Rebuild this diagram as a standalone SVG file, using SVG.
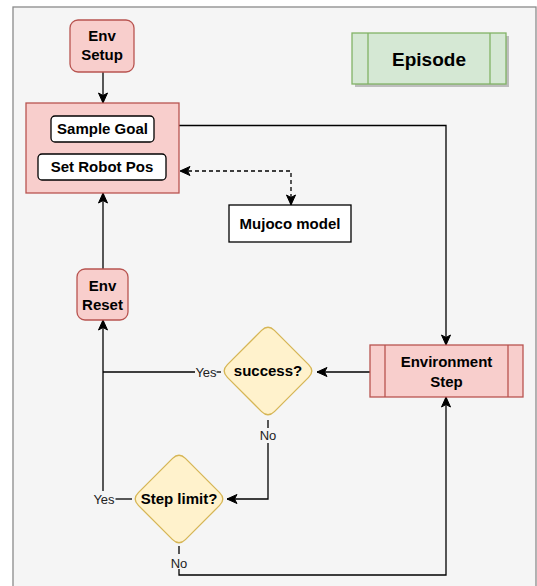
<svg xmlns="http://www.w3.org/2000/svg" width="537" height="586" viewBox="0 0 537 586">
<style>
text{font-family:"Liberation Sans",Arial,sans-serif;fill:#000;text-anchor:middle}
.b{font-weight:bold;font-size:15px}
.lbl{font-size:13px;fill:#222}
.red{fill:#f8cecc;stroke:#b85450;stroke-width:1.3}
.white{fill:#fff;stroke:#000;stroke-width:1.3}
.dia{fill:#fff2cc;stroke:#d6b656;stroke-width:1.3}
.ln{fill:none;stroke:#000;stroke-width:1.3}
.dash{stroke-dasharray:4 3}
</style>
<defs>
<marker id="arr" markerUnits="userSpaceOnUse" markerWidth="12" markerHeight="12" viewBox="0 0 12 12" refX="11" refY="6" orient="auto-start-reverse">
<path d="M1,1.5 L11,6 L1,10.5 L3.5,6 Z" fill="#000" stroke="#000" stroke-width="1"/>
</marker>
</defs>
<rect x="13" y="7" width="523" height="600" fill="#f5f5f5" stroke="#8a8a8a" stroke-width="1.3"/>

<g id="connectors">
<path class="ln" d="M103,72 V103" marker-end="url(#arr)"/>
<path class="ln" d="M179,125.5 H446 V345" marker-end="url(#arr)"/>
<path class="ln" d="M370,372 H317" marker-end="url(#arr)"/>
<path class="ln dash" d="M291,205 V171 H180" marker-start="url(#arr)" marker-end="url(#arr)"/>
<path class="ln" d="M221,372 H216.5"/>
<path class="ln" d="M195,372 H103"/>
<path class="ln" d="M132,499 H115.5"/>
<path class="ln" d="M103,491 V320" marker-end="url(#arr)"/>
<path class="ln" d="M103,269 V193" marker-end="url(#arr)"/>
<path class="ln" d="M268,420 V428"/>
<path class="ln" d="M268,443 V499 H227" marker-end="url(#arr)"/>
<path class="ln" d="M179,546 V554"/>
<path class="ln" d="M179,569 V575 H446 V397" marker-end="url(#arr)"/>
<text class="lbl" x="206" y="376.5">Yes</text>
<text class="lbl" x="104" y="503.5">Yes</text>
<text class="lbl" x="268" y="440">No</text>
<text class="lbl" x="179" y="567.5">No</text>
</g>

<g id="env-setup">
<rect class="red" x="70" y="20" width="64" height="52" rx="8"/>
<text class="b" x="102" y="41">Env</text>
<text class="b" x="102" y="60">Setup</text>
</g>

<g id="episode">
<rect x="355" y="36" width="154" height="51" fill="#bdbdbd"/>
<rect x="352" y="33" width="154" height="51" fill="#d5e8d4" stroke="#82b366" stroke-width="1.3"/>
<path d="M368,33 V84 M490,33 V84" stroke="#82b366" stroke-width="1.3" fill="none"/>
<text x="429" y="66" style="font-weight:bold;font-size:19px">Episode</text>
</g>

<g id="reset-box">
<rect class="red" x="26" y="103" width="153" height="90"/>
<g id="sample-goal">
<rect class="white" x="51" y="116" width="103" height="26" rx="4"/>
<text class="b" x="102.5" y="134">Sample Goal</text>
</g>
<g id="set-robot-pos">
<rect class="white" x="38" y="154" width="128" height="26" rx="4"/>
<text class="b" x="102" y="172">Set Robot Pos</text>
</g>
</g>

<g id="mujoco-model">
<rect class="white" x="229" y="205" width="122" height="37"/>
<text class="b" x="290" y="229">Mujoco model</text>
</g>

<g id="env-reset">
<rect class="red" x="77" y="269" width="51" height="51" rx="8"/>
<text class="b" x="102.5" y="291">Env</text>
<text class="b" x="102.5" y="310">Reset</text>
</g>

<g id="environment-step">
<rect class="red" x="370" y="345" width="153" height="52"/>
<path d="M385,345 V397 M508,345 V397" stroke="#b85450" stroke-width="1.3" fill="none"/>
<text class="b" x="446.5" y="367">Environment</text>
<text class="b" x="446.5" y="387">Step</text>
</g>

<g id="success">
<path class="dia" d="M261.6,330.4 Q268,324 274.4,330.4 L308.6,364.6 Q315,371 308.6,377.4 L274.4,411.6 Q268,418 261.6,411.6 L227.4,377.4 Q221,371 227.4,364.6 Z"/>
<text class="b" x="268" y="376">success?</text>
</g>

<g id="step-limit">
<path class="dia" d="M172.6,458.4 Q179,452 185.4,458.4 L219.6,492.6 Q226,499 219.6,505.4 L185.4,539.6 Q179,546 172.6,539.6 L138.4,505.4 Q132,499 138.4,492.6 Z"/>
<text class="b" x="179" y="504">Step limit?</text>
</g>
</svg>
